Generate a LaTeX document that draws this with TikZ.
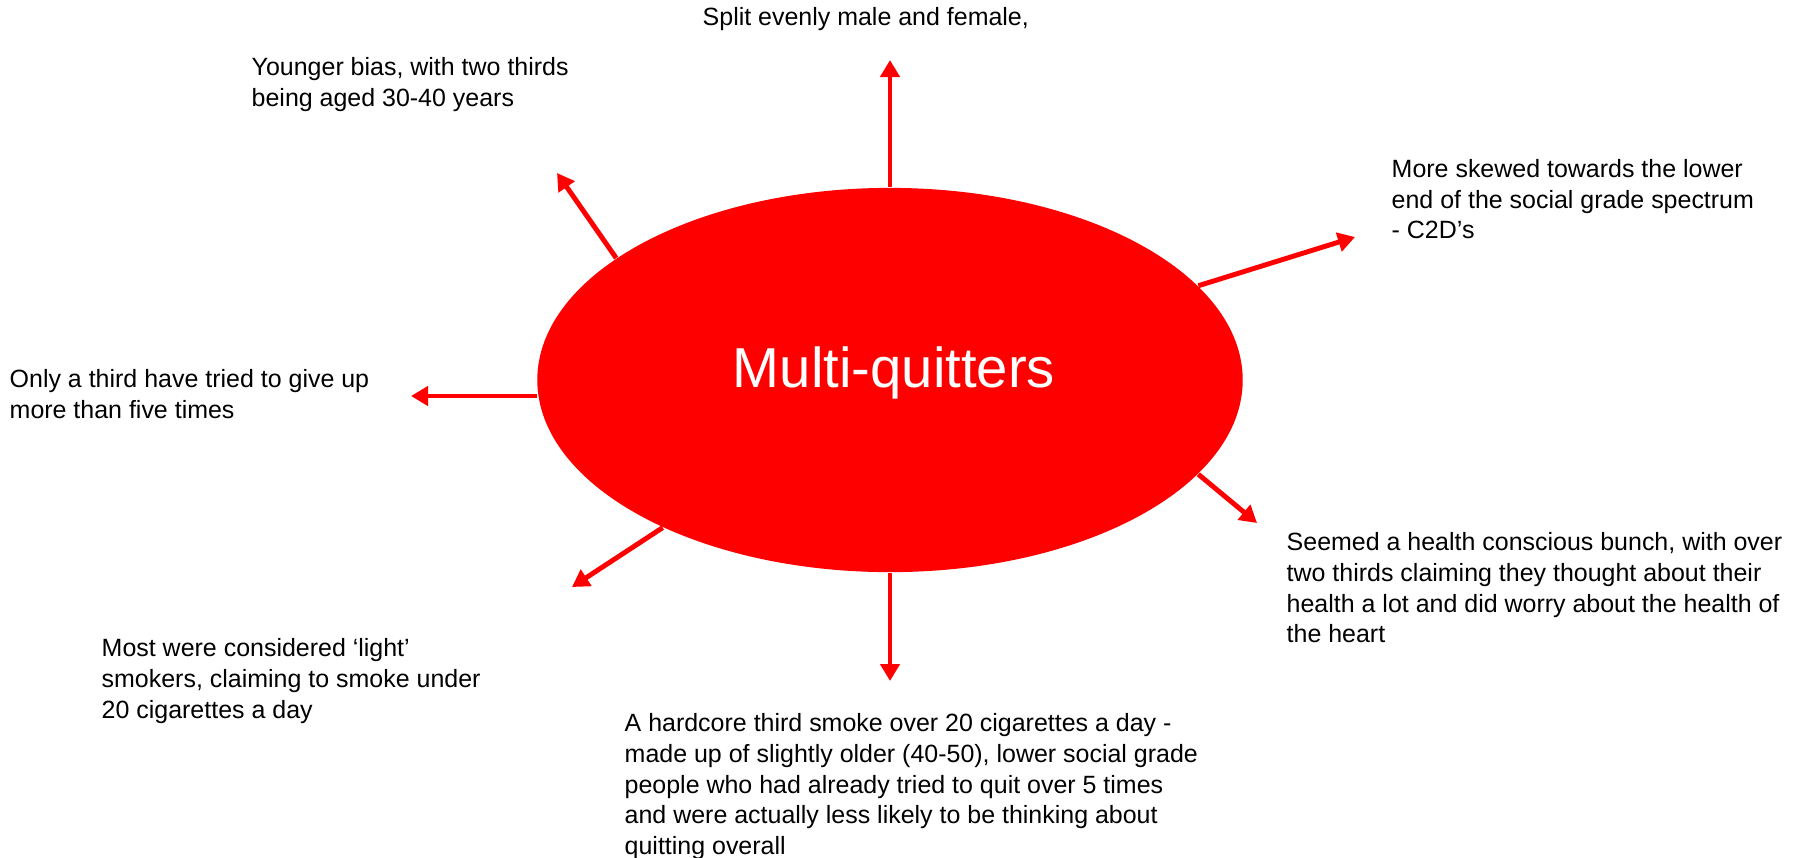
\documentclass[tikz,border=0pt]{standalone}
\usepackage{fontspec}
\setmainfont{Liberation Sans}
\usetikzlibrary{shapes.geometric,arrows.meta}

\tikzset{
    note/.style={anchor=north west, align=left, inner sep=0pt,
        font=\fontsize{7.1}{8.7}\selectfont},
    spoke/.style={draw=red, line width=1.4pt}
}

\begin{document}
\begin{tikzpicture}[->, >={Triangle[length=1.7mm,width=1.9mm]}, x=0.01cm, y=-0.01cm]
    \useasboundingbox (0,0) rectangle (1804,857);

    \node[ellipse, fill=red, inner sep=0pt, minimum width=7.05cm, minimum height=3.84cm] (mq) at (890,380) {};
    \node[text=white, font=\fontsize{16}{19}\selectfont] (title) at (894,373) {Multi-quitters};

    \node[note] (sex) at (702,7) {Split evenly male and female,};
    \node[note] (age) at (251,57) {Younger bias, with two thirds\\being aged 30-40 years};
    \node[note] (grade) at (1391,159) {More skewed towards the lower\\end of the social grade spectrum\\- C2D’s};
    \node[note] (tries) at (9,369) {Only a third have tried to give up\\more than five times};
    \node[note] (health) at (1286,532) {Seemed a health conscious bunch, with over\\two thirds claiming they thought about their\\health a lot and did worry about the health of\\the heart};
    \node[note] (light) at (101,638) {Most were considered ‘light’\\smokers, claiming to smoke under\\20 cigarettes a day};
    \node[note] (heavy) at (624,713) {A hardcore third smoke over 20 cigarettes a day -\\made up of slightly older (40-50), lower social grade\\people who had already tried to quit over 5 times\\and were actually less likely to be thinking about\\quitting overall};

    \coordinate (t1) at (890,60);
    \coordinate (t2) at (557,173);
    \coordinate (t3) at (1355,237);
    \coordinate (t4) at (411,396);
    \coordinate (t5) at (1257,523);
    \coordinate (t6) at (890,681);
    \coordinate (t7) at (572,587);

    \draw[spoke] (mq.90) to (t1);
    \draw[spoke] (mq.156.4) to (t2);
    \draw[spoke] (mq.17.9) to (t3);
    \draw[spoke] (mq.west |- t4) to (t4);
    \draw[spoke] (mq.343.4) to (t5);
    \draw[spoke] (mq.270) to (t6);
    \draw[spoke] (mq.213) to (t7);
\end{tikzpicture}
\end{document}
